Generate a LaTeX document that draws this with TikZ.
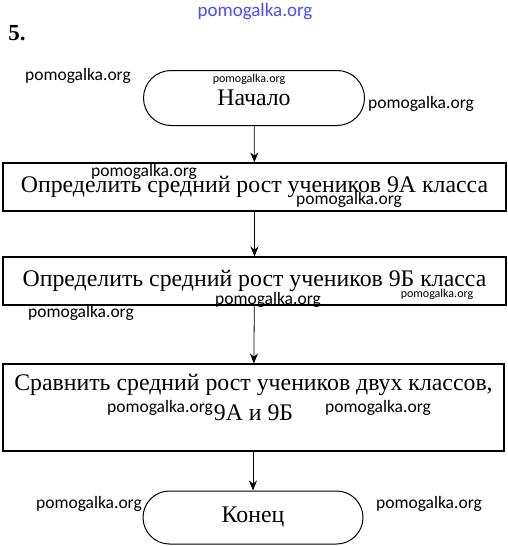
\documentclass[tikz,border=0pt]{standalone}
\usepackage{fontspec}
\setmainfont{Liberation Serif}
\newfontfamily\wm{Carlito}
\usetikzlibrary{arrows.meta,shapes.misc}
\begin{document}
\begin{tikzpicture}[x=1pt,y=-1pt,
  box/.style={draw, line width=1.1pt, rectangle, inner sep=0pt},
  term/.style={draw, line width=1pt, rounded rectangle, inner sep=0pt},
  lbl/.style={font=\fontsize{23.8}{27}\selectfont, inner sep=0pt},
  wmk/.style={font=\wm\fontsize{17.5}{19}\selectfont, inner sep=0pt},
  wms/.style={font=\wm\fontsize{12}{13}\selectfont, inner sep=0pt},
  arr/.style={-{Stealth[length=10pt,width=8pt]}, line width=0.8pt}]
\useasboundingbox (0,0) rectangle (508,546);
\fill[white] (0,0) rectangle (508,546);
% flowchart
\node[term, lbl, minimum width=221pt, minimum height=55pt] (start) at (254,98) {Начало};
\node[box, lbl, minimum width=503pt, minimum height=48pt] (b1) at (254.5,187) {Определить средний рост учеников 9А класса};
\node[box, lbl, minimum width=503pt, minimum height=48pt] (b2) at (254.5,281) {Определить средний рост учеников 9Б класса};
\node[box, minimum width=501pt, minimum height=87pt] (b3) at (253.5,407.5) {};
\node[lbl] (t3a) at (253.5,385) {Сравнить средний рост учеников двух классов,};
\node[lbl] (t3b) at (253.5,413) {9А и 9Б};
\node[term, lbl, minimum width=220pt, minimum height=53pt] (end) at (253,517.5) {Конец};
\draw[arr] (start) -- (b1);
\draw[arr] (b1) -- (b2);
\draw[arr] (b2) -- (b3);
\draw[arr] (b3.south -| end.north) -- (end.north);
% heading
\node[font=\bfseries\fontsize{23}{25}\selectfont, inner sep=0pt] (num) at (17,33) {5.};
% watermarks
\node[font=\wm\fontsize{19}{21}\selectfont, text=blue!70!white, inner sep=0pt] (w0) at (255,12) {pomogalka.org};
\node[wmk] (w1) at (78,76) {pomogalka.org};
\node[wms] (w2) at (249,79) {pomogalka.org};
\node[wmk] (w3) at (421,104) {pomogalka.org};
\node[wmk] (w4) at (144,172) {pomogalka.org};
\node[wmk] (w5) at (349,200) {pomogalka.org};
\node[wmk] (w6) at (268,300) {pomogalka.org};
\node[wms] (w7) at (437,294) {pomogalka.org};
\node[wmk] (w8) at (81,313) {pomogalka.org};
\node[wmk] (w9) at (160,408) {pomogalka.org};
\node[wmk] (w10) at (378,408) {pomogalka.org};
\node[wmk] (w11) at (89,504) {pomogalka.org};
\node[wmk] (w12) at (429,504) {pomogalka.org};
\end{tikzpicture}
\end{document}
